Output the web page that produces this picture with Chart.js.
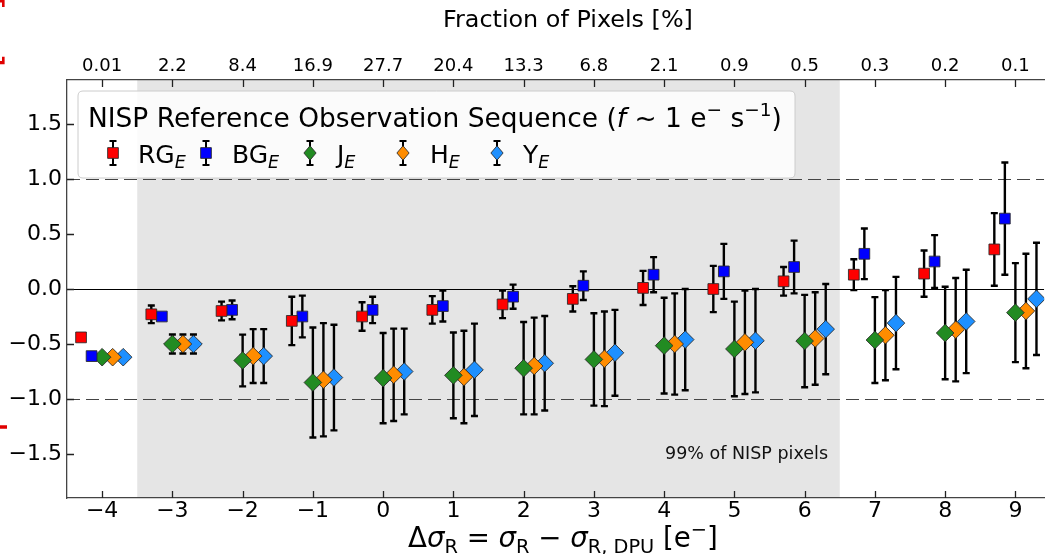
<!DOCTYPE html>
<html><head><meta charset="utf-8">
<script src="https://cdn.jsdelivr.net/npm/chart.js@4.4.0/dist/chart.umd.min.js"></script>
<style>html,body{margin:0;padding:0;background:#fff;overflow:hidden}#wrap{width:1054px;height:554px;position:relative}</style>
</head><body><div id="wrap"><canvas id="c" width="1054" height="554"></canvas></div>
<script>
// ---------- data ----------
const groupX = [-4, -3, -2, -1, 0, 1, 2, 3, 4, 5, 6, 7, 8, 9];
const topTickLabels = ['0.01','2.2','8.4','16.9','27.7','20.4','13.3','6.8','2.1','0.9','0.5','0.3','0.2','0.1'];
const yTickValues = [-1.5, -1.0, -0.5, 0.0, 0.5, 1.0, 1.5];
const seriesLabels = ['RG', 'BG', 'J', 'H', 'Y'];
const seriesOffsets = [-0.3, -0.15, 0, 0.15, 0.3];
const rgValues = [-0.44, -0.23, -0.20, -0.29, -0.25, -0.19, -0.14, -0.09, 0.01, 0.00, 0.07, 0.13, 0.14, 0.36];
const rgErrors = [0, 0.08, 0.085, 0.22, 0.13, 0.125, 0.125, 0.115, 0.155, 0.21, 0.13, 0.14, 0.21, 0.33];
const bgValues = [-0.61, -0.25, -0.19, -0.25, -0.19, -0.155, -0.07, 0.03, 0.13, 0.16, 0.20, 0.32, 0.25, 0.64];
const bgErrors = [0, 0, 0.085, 0.19, 0.12, 0.14, 0.11, 0.13, 0.16, 0.25, 0.24, 0.23, 0.24, 0.51];
const jValues = [-0.62, -0.50, -0.65, -0.85, -0.81, -0.785, -0.72, -0.64, -0.515, -0.545, -0.473, -0.464, -0.40, -0.215];
const jErrors = [0, 0.087, 0.235, 0.50, 0.41, 0.39, 0.42, 0.42, 0.435, 0.43, 0.42, 0.39, 0.42, 0.45];
const hValues = [-0.62, -0.50, -0.61, -0.825, -0.78, -0.80, -0.70, -0.635, -0.50, -0.485, -0.45, -0.42, -0.37, -0.20];
const hErrors = [0, 0.087, 0.245, 0.515, 0.42, 0.42, 0.44, 0.43, 0.46, 0.47, 0.42, 0.41, 0.47, 0.52];
const yValues = [-0.62, -0.50, -0.61, -0.805, -0.75, -0.735, -0.675, -0.58, -0.46, -0.47, -0.365, -0.31, -0.295, -0.09];
const yErrors = [0, 0.087, 0.245, 0.48, 0.39, 0.42, 0.43, 0.39, 0.46, 0.47, 0.41, 0.42, 0.47, 0.51];
const shadedRange = [-3.5, 6.5];
const refLines = [-1, 1];

const FAM = '"DejaVu Sans", sans-serif';
const seriesValues = [rgValues, bgValues, jValues, hValues, yValues];
const seriesErrors = [rgErrors, bgErrors, jErrors, hErrors, yErrors];
const seriesColors = ['#ff0000', '#0000ff', '#228b22', '#ff8c00', '#1e90ff'];
const seriesStyles = ['rect', 'rect', 'rectRot', 'rectRot', 'rectRot'];
const seriesRadius = [7.6, 7.6, 8.8, 8.8, 8.8];
const legendRadius = [7.6, 7.6, 7.2, 7.2, 7.2];

function fmtMinus(s) { return String(s).replace('-', '\u2212'); }

const datasets = seriesLabels.map((lab, k) => ({
  label: lab,
  data: groupX.map((x, i) => ({ x: x + seriesOffsets[k], y: seriesValues[k][i] })),
  errors: seriesErrors[k],
  pointStyle: seriesStyles[k],
  pointRadius: seriesRadius[k],
  pointHoverRadius: seriesRadius[k],
  backgroundColor: seriesColors[k],
  borderColor: 'rgba(40,40,40,0.85)',
  borderWidth: 1,
  showLine: false
}));

function richMeasure(ctx, segs, size) {
  let w = 0;
  for (const s of segs) {
    const fs = (s.sub || s.sup) ? size * 0.7 : size;
    ctx.font = (s.it ? 'italic ' : '') + fs + 'px ' + FAM;
    w += ctx.measureText(s.t).width;
  }
  return w;
}
function richDraw(ctx, segs, x, y, size, color) {
  let cx = x;
  ctx.fillStyle = color; ctx.textBaseline = 'alphabetic'; ctx.textAlign = 'left';
  for (const s of segs) {
    const fs = (s.sub || s.sup) ? size * 0.7 : size;
    ctx.font = (s.it ? 'italic ' : '') + fs + 'px ' + FAM;
    const dy = s.sub ? size * 0.2 : (s.sup ? -size * 0.4 : 0);
    ctx.fillText(s.t, cx, y + dy);
    cx += ctx.measureText(s.t).width;
  }
}
function richFit(ctx, segs, x0, x1, baseline, color) {
  const w = richMeasure(ctx, segs, 100);
  const size = 100 * (x1 - x0) / w;
  richDraw(ctx, segs, x0, baseline, size, color);
  return size;
}

function drawMarker(ctx, style, x, y, r, color) {
  ctx.save();
  ctx.fillStyle = color; ctx.strokeStyle = 'rgba(40,40,40,0.85)'; ctx.lineWidth = 1;
  ctx.beginPath();
  if (style === 'rect') { const h = r * Math.SQRT1_2; ctx.rect(x - h, y - h, 2 * h, 2 * h); }
  else { ctx.moveTo(x - r * 0.85, y); ctx.lineTo(x, y - r); ctx.lineTo(x + r * 0.85, y); ctx.lineTo(x, y + r); ctx.closePath(); }
  ctx.fill(); ctx.stroke();
  ctx.restore();
}
function drawErr(ctx, x, y0, y1) {
  ctx.beginPath();
  ctx.moveTo(x, y0); ctx.lineTo(x, y1);
  ctx.moveTo(x - 3.5, y0); ctx.lineTo(x + 3.5, y0);
  ctx.moveTo(x - 3.5, y1); ctx.lineTo(x + 3.5, y1);
  ctx.stroke();
}

const decorPlugin = {
  id: 'decor',
  beforeDraw(chart) {
    const { ctx, chartArea: a, scales } = chart;
    const xs = scales.x;
    ctx.save();
    ctx.fillStyle = '#e5e5e5';
    const p0 = xs.getPixelForValue(shadedRange[0]), p1 = Math.min(xs.getPixelForValue(shadedRange[1]), a.right);
    ctx.fillRect(p0, a.top, p1 - p0, a.bottom - a.top);
    ctx.restore();
  },
  beforeDatasetsDraw(chart) {
    const { ctx, chartArea: a, scales } = chart;
    const xs = scales.x, ys = scales.y;
    ctx.save();
    ctx.beginPath(); ctx.rect(a.left, a.top, a.right - a.left, a.bottom - a.top); ctx.clip();
    // reference lines
    ctx.strokeStyle = '#444'; ctx.lineWidth = 1.2; ctx.setLineDash([13, 6]);
    for (const v of refLines) {
      const py = Math.round(ys.getPixelForValue(v)) + 0.5;
      ctx.beginPath(); ctx.moveTo(a.left, py); ctx.lineTo(a.right, py); ctx.stroke();
    }
    ctx.setLineDash([]);
    ctx.strokeStyle = '#000'; ctx.lineWidth = 1.1;
    const pz = Math.round(ys.getPixelForValue(0)) + 0.5;
    ctx.beginPath(); ctx.moveTo(a.left, pz); ctx.lineTo(a.right, pz); ctx.stroke();
    // error bars
    ctx.strokeStyle = '#000'; ctx.lineWidth = 2.4;
    chart.data.datasets.forEach(ds => {
      ds.data.forEach((pt, i) => {
        const e = ds.errors[i];
        if (!e) return;
        const px = xs.getPixelForValue(pt.x);
        drawErr(ctx, px, ys.getPixelForValue(pt.y + e), ys.getPixelForValue(pt.y - e));
      });
    });
    ctx.restore();
  },
  afterDraw(chart) {
    const { ctx, chartArea: a, scales } = chart;
    const xs = scales.x, ys = scales.y;
    ctx.save();
    // inward ticks
    ctx.strokeStyle = '#222'; ctx.lineWidth = 1.3;
    ctx.beginPath();
    for (const v of groupX) {
      const px = Math.round(xs.getPixelForValue(v)) + 0.5;
      ctx.moveTo(px, a.bottom); ctx.lineTo(px, a.bottom - 7);
      ctx.moveTo(px, a.top); ctx.lineTo(px, a.top + 7);
    }
    for (const v of yTickValues) {
      const py = Math.round(ys.getPixelForValue(v)) + 0.5;
      ctx.moveTo(a.left, py); ctx.lineTo(a.left + 7, py);
    }
    ctx.stroke();

    // annotation text
    ctx.fillStyle = '#111';
    ctx.font = '17.5px ' + FAM; ctx.textAlign = 'right'; ctx.textBaseline = 'alphabetic';
    ctx.fillText('99% of NISP pixels', 828, 459);

    // top axis title
    richFit(ctx, [{ t: 'Fraction of Pixels [%]' }], 443, 693, 27, '#000');

    // bottom axis title
    richFit(ctx, [
      { t: '\u0394' }, { t: '\u03c3', it: true }, { t: 'R', sub: true }, { t: ' = ' },
      { t: '\u03c3', it: true }, { t: 'R', sub: true }, { t: ' \u2212 ' },
      { t: '\u03c3', it: true }, { t: 'R, DPU', sub: true }, { t: ' [e' }, { t: '\u2212', sup: true }, { t: ']' }
    ], 408, 718, 547, '#000');

    // left (clipped) axis title in red
    ctx.save();
    ctx.translate(-1, 432);
    ctx.rotate(-Math.PI / 2);
    const ysegs = [{ t: '\u03c1' }, { t: '  \u0394\u03c3R \u2212 \u0394\u03c3R DPU  ' }, { t: '[e\u207b]' }];
    const w = richMeasure(ctx, ysegs, 100);
    richDraw(ctx, ysegs, 0, 0, 100 * 436 / w, '#e00000');
    ctx.restore();

    // legend
    const bx = 78, by = 91, bw = 717, bh = 87, r = 5;
    ctx.fillStyle = 'rgba(255,255,255,0.85)'; ctx.strokeStyle = '#cccccc'; ctx.lineWidth = 1;
    ctx.beginPath();
    ctx.moveTo(bx + r, by); ctx.lineTo(bx + bw - r, by); ctx.quadraticCurveTo(bx + bw, by, bx + bw, by + r);
    ctx.lineTo(bx + bw, by + bh - r); ctx.quadraticCurveTo(bx + bw, by + bh, bx + bw - r, by + bh);
    ctx.lineTo(bx + r, by + bh); ctx.quadraticCurveTo(bx, by + bh, bx, by + bh - r);
    ctx.lineTo(bx, by + r); ctx.quadraticCurveTo(bx, by, bx + r, by);
    ctx.closePath(); ctx.fill(); ctx.stroke();

    richFit(ctx, [
      { t: 'NISP Reference Observation Sequence (' }, { t: 'f', it: true }, { t: ' ~ 1 e' },
      { t: '\u2212', sup: true }, { t: ' s' }, { t: '\u22121', sup: true }, { t: ')' }
    ], 88, 782, 127, '#000');

    const markerX = [113, 206, 310, 403, 497];
    const textX = [138, 232, 337, 430, 523];
    const my = 153;
    for (let k = 0; k < seriesLabels.length; k++) {
      ctx.strokeStyle = '#000'; ctx.lineWidth = 2;
      drawErr(ctx, markerX[k], my - 12, my + 12);
      drawMarker(ctx, seriesStyles[k], markerX[k], my, legendRadius[k], seriesColors[k]);
      richDraw(ctx, [{ t: seriesLabels[k] }, { t: 'E', sub: true, it: true }], textX[k], 163, 25, '#000');
    }
    ctx.restore();
  }
};

new Chart(document.getElementById('c'), {
  type: 'scatter',
  data: { datasets },
  options: {
    responsive: false,
    animation: false,
    devicePixelRatio: 1,
    layout: { padding: 0 },
    plugins: { legend: { display: false }, tooltip: { enabled: false } },
    scales: {
      x: {
        type: 'linear', position: 'bottom', min: -4.5, max: 9.41,
        afterBuildTicks: s => { s.ticks = groupX.map(v => ({ value: v })); },
        ticks: { callback: v => fmtMinus(v), font: { family: FAM, size: 22 }, color: '#000', padding: 0, maxRotation: 0, autoSkip: false },
        grid: { display: false, drawTicks: false },
        border: { display: true, color: '#444', width: 1.3 },
        afterFit: s => { s.height = 56; }
      },
      x2: {
        type: 'linear', position: 'top', min: -4.5, max: 9.41,
        afterBuildTicks: s => { s.ticks = groupX.map(v => ({ value: v })); },
        ticks: { callback: v => topTickLabels[groupX.indexOf(v)], font: { family: FAM, size: 18 }, color: '#000', padding: 3, maxRotation: 0, autoSkip: false },
        grid: { display: false, drawTicks: false },
        border: { display: true, color: '#444', width: 1.3 },
        afterFit: s => { s.height = 80; }
      },
      y: {
        type: 'linear', position: 'left', min: -1.9, max: 1.9,
        afterBuildTicks: s => { s.ticks = yTickValues.map(v => ({ value: v })); },
        ticks: { callback: v => fmtMinus(v.toFixed(1)), font: { family: FAM, size: 22 }, color: '#000', padding: 5 },
        grid: { display: false, drawTicks: false },
        border: { display: true, color: '#444', width: 1.3 },
        afterFit: s => { s.width = 67; }
      }
    }
  },
  plugins: [decorPlugin]
});
</script></body></html>
